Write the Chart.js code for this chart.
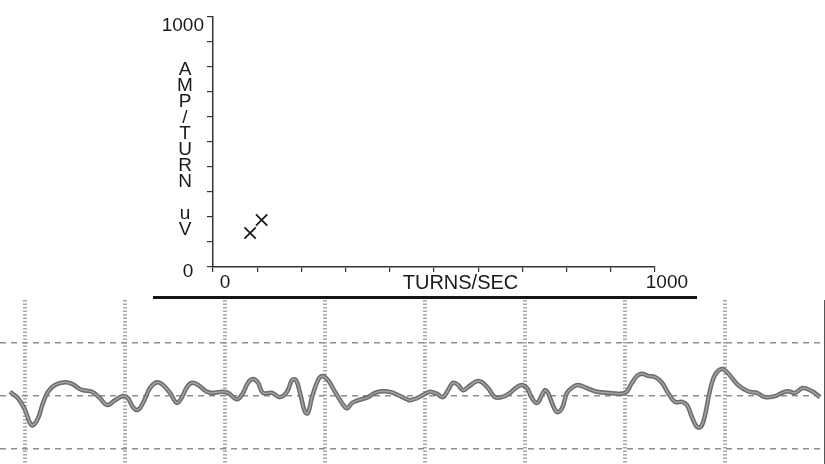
<!DOCTYPE html>
<html>
<head>
<meta charset="utf-8">
<script src="https://cdn.jsdelivr.net/npm/chart.js@4"></script>
<style>
  body { margin: 0; background: #fff; }
  #wrap { position: relative; width: 825px; height: 464px; overflow: hidden; }
  canvas { position: absolute; left: 0; }
  #top { top: 0; }
  #trace { top: 300px; }
  #rule { position: absolute; left: 153px; top: 296px; width: 544px; height: 3px; background: #151515; }
</style>
</head>
<body>
<div id="wrap">
  <canvas id="top" width="825" height="300"></canvas>
  <div id="rule"></div>
  <canvas id="trace" width="825" height="164"></canvas>
</div>
<script>
// turns/amplitude cloud
const turnsPerSec = [84, 110];
const ampPerTurn = [136, 188];
const turnTicks = [0, 100, 200, 300, 400, 500, 600, 700, 800, 900, 1000];
const ampTicks = [0, 100, 200, 300, 400, 500, 600, 700, 800, 900, 1000];
const yTitle = "AMP/TURN uV";

// raw trace under the plot (ms, uV)
const traceMs = [-1.5, -0.7, 0, 0.5, 0.8, 1.3, 1.8, 2.3, 3.0, 4.0, 4.7, 5.5, 5.8, 6.7, 7.5, 8.2, 9.0, 9.8,
  10.3, 10.8, 11.3, 11.8, 12.5, 13.2, 13.8, 14.5, 15.2, 15.7, 16.2, 16.7, 17.3, 18.2, 18.8, 19.7,
  20.3, 21.2, 21.8, 22.3, 22.8, 23.3, 23.8, 24.7, 25.5, 26.2, 26.7, 27.1, 27.5, 28.0, 28.3, 28.7,
  29.3, 29.7, 30.3, 31.0, 31.7, 32.2, 32.7, 33.3, 34.3, 35.0, 35.7, 36.5, 37.3, 38.2, 38.5, 39.2,
  39.8, 40.5, 41.2, 41.8, 42.3, 42.8, 43.3, 43.8, 44.3, 45.2, 45.7, 46.3, 47.0, 47.7, 48.5, 49.2,
  49.7, 50.2, 50.7, 51.2, 51.7, 52.0, 52.3, 52.7, 53.2, 53.7, 54.2, 54.8, 55.3, 56.2, 57.2, 58.5,
  60.0, 60.7, 61.2, 61.7, 62.3, 63.0, 63.7, 64.3, 65.0, 65.7, 66.2, 66.7, 67.2, 67.6, 68.0, 68.5,
  69.0, 69.7, 70.2, 70.7, 71.3, 72.3, 73.2, 74.0, 75.0, 75.7, 76.3, 77.0, 77.8, 78.7, 79.5];
const traceUv = [8, -4, -26, -51, -55, -42, -13, 8, 21, 26, 23, 13, 11, 8, -4, -17, -8, 0,
  -4, -21, -26, -13, 15, 26, 21, 6, -13, -2, 17, 25, 21, 8, 6, 8,
  6, -6, 6, 25, 32, 25, 6, 6, -2, 8, 30, 30, 6, -30, -32, -2,
  30, 38, 30, 8, -13, -23, -13, -8, -2, 6, 9, 8, 2, -6, -8, -4,
  2, 8, 4, -2, 11, 25, 21, 11, 17, 28, 26, 15, -2, -2, 6, 17,
  21, 15, -4, -13, 2, 11, 6, -13, -30, -23, 6, 17, 21, 15, 8, 6,
  6, 25, 38, 42, 38, 36, 25, 6, -11, -11, -17, -40, -58, -58, -36, 11,
  40, 51, 45, 34, 21, 9, 6, -2, 0, 6, 9, 6, 15, 9, -2];
const msTicks = [0, 10, 20, 30, 40, 50, 60, 70];
const uvTicks = [-100, 0, 100];

const ink = "#1a1a1a";
const font = '"Liberation Sans", Arial, sans-serif';

const axisText = {
  id: "axisText",
  afterDraw(c) {
    const ctx = c.ctx, x = c.scales.x, y = c.scales.y;
    ctx.save();
    ctx.fillStyle = ink;
    ctx.textBaseline = "middle";
    ctx.font = "19px " + font;
    ctx.textAlign = "center";
    ctx.fillText("0", x.getPixelForValue(27), 283);
    ctx.fillText("1000", x.getPixelForValue(1027), 283);
    ctx.font = "20px " + font;
    ctx.fillText("TURNS/SEC", x.getPixelForValue(560), 283);
    ctx.font = "19px " + font;
    ctx.textAlign = "right";
    ctx.fillText("1000", c.chartArea.left - 9, y.getPixelForValue(1000) + 9);
    ctx.textAlign = "center";
    ctx.fillText("0", c.chartArea.left - 25, y.getPixelForValue(0) + 5);
    ctx.font = "19px " + font;
    yTitle.split("").forEach((ch, i) => {
      ctx.fillText(ch, 185, 70 + i * 16);
    });
    ctx.restore();
  }
};

new Chart(document.getElementById("top"), {
  type: "scatter",
  data: {
    datasets: [{
      data: turnsPerSec.map((v, i) => ({ x: v, y: ampPerTurn[i] })),
      pointStyle: "crossRot",
      pointRadius: 8,
      borderWidth: 1.8,
      borderColor: ink
    }]
  },
  options: {
    responsive: false,
    animation: false,
    layout: { padding: { left: 0, top: 17, right: 170, bottom: 0 } },
    plugins: { legend: { display: false }, tooltip: { enabled: false } },
    scales: {
      x: {
        min: 0, max: 1000,
        afterBuildTicks: s => { s.ticks = turnTicks.map(v => ({ value: v })); },
        afterFit: s => { s.height = 33; },
        ticks: { display: false },
        grid: { drawOnChartArea: false, color: "#333", tickLength: 5, lineWidth: 1.2 },
        border: { color: "#333", width: 1.5 }
      },
      y: {
        min: 0, max: 1000,
        afterBuildTicks: s => { s.ticks = ampTicks.map(v => ({ value: v })); },
        afterFit: s => { s.width = 213; },
        ticks: { display: false },
        grid: { drawOnChartArea: false, color: "#333", tickLength: 6, lineWidth: 1.2 },
        border: { color: "#333", width: 1.5 }
      }
    }
  },
  plugins: [axisText]
});

const tracePts = traceMs.map((t, i) => ({ x: t, y: traceUv[i] }));

new Chart(document.getElementById("trace"), {
  type: "line",
  data: {
    datasets: [
      { data: tracePts, borderColor: "#a4a4a4", borderWidth: 1.5, pointRadius: 0, tension: 0.4, fill: false, order: 0 },
      { data: tracePts, borderColor: "#6c6c6c", borderWidth: 4.5, pointRadius: 0, tension: 0.4, fill: false, order: 1 }
    ]
  },
  options: {
    responsive: false,
    animation: false,
    layout: { padding: 0 },
    plugins: { legend: { display: false }, tooltip: { enabled: false } },
    scales: {
      x: {
        type: "linear",
        min: -2.5, max: 80,
        afterBuildTicks: s => { s.ticks = msTicks.map(v => ({ value: v })); },
        ticks: { display: false },
        grid: { color: "#a8a8a8", lineWidth: 4, drawTicks: false },
        border: { display: false, dash: [1.5, 2] }
      },
      y: {
        position: "right",
        min: -128, max: 181,
        afterBuildTicks: s => { s.ticks = uvTicks.map(v => ({ value: v })); },
        ticks: { display: false },
        grid: { color: "#8e8e8e", lineWidth: 1.5, drawTicks: false },
        border: { display: true, color: "#555", width: 2, dash: [6, 5] }
      }
    }
  }
});
</script>
</body>
</html>
